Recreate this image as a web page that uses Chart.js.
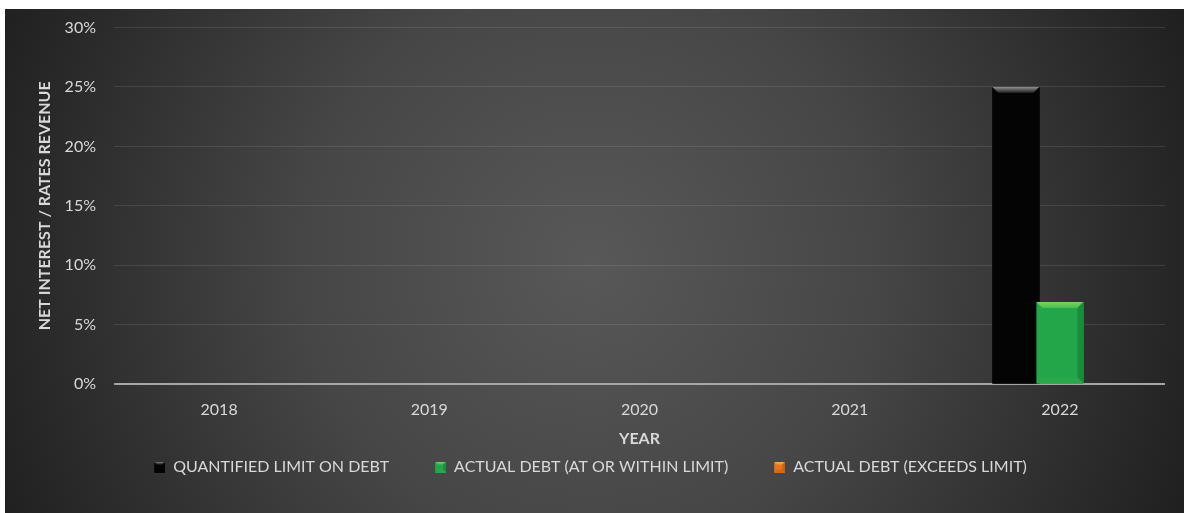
<!DOCTYPE html>
<html>
<head>
<meta charset="utf-8">
<style>
  html, body { margin: 0; padding: 0; background: #ffffff; }
  #wrap { width: 1184px; height: 513px; }
</style>
<script src="https://cdn.jsdelivr.net/npm/chart.js@4/dist/chart.umd.min.js"></script>
</head>
<body>
<div id="wrap"><canvas id="c" width="1184" height="513"></canvas></div>
<script>
// Categories and series (percent of rates revenue)
const years = ['2018', '2019', '2020', '2021', '2022'];
const quantifiedLimit = [null, null, null, null, 25];
const actualWithinLimit = [null, null, null, null, 6.9];
const actualExceedsLimit = [null, null, null, null, null];
const yTicks = [0, 5, 10, 15, 20, 25, 30];

const FONT = 'Lato, "Open Sans", sans-serif';
const TEXT = '#d9d9d9';

// Bevel palettes: face, top highlight, side shade, bottom shade
const palettes = [
  { face: '#040404', top: '#909090', topEdge: '#1c1c1c', side: '#040404', bottom: '#040404' },
  { face: '#21a64a', top: '#78d45f', topEdge: '#4dbb50', side: '#1a8d3c', bottom: '#2aa64b' },
  { face: '#e8761e', top: '#f7b25a', topEdge: '#f09a3a', side: '#c8600f', bottom: '#d56a16' }
];

function drawBevel(ctx, x0, y0, x1, y1, p, d) {
  const w = x1 - x0, h = y1 - y0;
  d = Math.min(d, w / 2, h / 2);
  ctx.fillStyle = p.face;
  ctx.fillRect(x0, y0, w, h);
  // top facet
  const g = ctx.createLinearGradient(0, y0, 0, y0 + d);
  g.addColorStop(0, p.top);
  g.addColorStop(1, p.topEdge);
  ctx.fillStyle = g;
  ctx.beginPath();
  ctx.moveTo(x0, y0); ctx.lineTo(x1, y0); ctx.lineTo(x1 - d, y0 + d); ctx.lineTo(x0 + d, y0 + d);
  ctx.closePath(); ctx.fill();
  // right facet
  ctx.fillStyle = p.side;
  ctx.beginPath();
  ctx.moveTo(x1, y0); ctx.lineTo(x1, y1); ctx.lineTo(x1 - d, y1 - d); ctx.lineTo(x1 - d, y0 + d);
  ctx.closePath(); ctx.fill();
  // bottom facet
  ctx.fillStyle = p.bottom;
  ctx.beginPath();
  ctx.moveTo(x0, y1); ctx.lineTo(x1, y1); ctx.lineTo(x1 - d, y1 - d); ctx.lineTo(x0 + d, y1 - d);
  ctx.closePath(); ctx.fill();
}

// Legend marker: a bevelled 11px square at the right end of a wider transparent
// strip, so the strip also spaces the legend items apart horizontally
const MARK_LEAD = 11;
function swatch(p) {
  const s = document.createElement('canvas');
  s.width = MARK_LEAD + 11; s.height = 11;
  drawBevel(s.getContext('2d'), MARK_LEAD, 0, MARK_LEAD + 11, 11, p, 3);
  return s;
}

const backdrop = {
  id: 'backdrop',
  beforeDraw(chart) {
    const ctx = chart.ctx;
    ctx.save();
    ctx.fillStyle = '#ffffff';
    ctx.fillRect(0, 0, chart.width, chart.height);
    const g = ctx.createRadialGradient(590, 262, 0, 590, 262, 640);
    g.addColorStop(0, '#585858');
    g.addColorStop(0.45, '#464646');
    g.addColorStop(1, '#202020');
    ctx.fillStyle = g;
    ctx.fillRect(5, 9, chart.width - 5, chart.height - 9);
    ctx.restore();
  }
};

// Bars are drawn by Chart.js; this adds the bevelled faces over each bar element
const bevelBars = {
  id: 'bevelBars',
  afterDatasetsDraw(chart) {
    const ctx = chart.ctx;
    ctx.save();
    chart.data.datasets.forEach((ds, i) => {
      const meta = chart.getDatasetMeta(i);
      if (meta.hidden) return;
      meta.data.forEach((bar, j) => {
        if (ds.data[j] == null) return;
        const { x, y, base, width } = bar.getProps(['x', 'y', 'base', 'width'], true);
        drawBevel(ctx, x - width / 2, Math.min(y, base), x + width / 2, Math.max(y, base), palettes[i], 6);
      });
    });
    ctx.restore();
  }
};

new Chart(document.getElementById('c'), {
  type: 'bar',
  data: {
    labels: years,
    datasets: [
      { label: 'QUANTIFIED LIMIT ON DEBT', data: quantifiedLimit, backgroundColor: palettes[0].face, pointStyle: swatch(palettes[0]) },
      { label: 'ACTUAL DEBT (AT OR WITHIN LIMIT)', data: actualWithinLimit, backgroundColor: palettes[1].face, pointStyle: swatch(palettes[1]) },
      { label: 'ACTUAL DEBT (EXCEEDS LIMIT)', data: actualExceedsLimit, backgroundColor: palettes[2].face, pointStyle: swatch(palettes[2]) }
    ]
  },
  options: {
    responsive: false,
    animation: false,
    devicePixelRatio: 1,
    categoryPercentage: 0.628,
    barPercentage: 1.068,
    layout: { padding: { left: 5, right: 19, top: 25, bottom: 28 } },
    plugins: {
      legend: {
        position: 'bottom',
        labels: {
          usePointStyle: true,
          pointStyleWidth: MARK_LEAD + 11,
          color: TEXT,
          font: { family: FONT, size: 16 },
          padding: 35,
          boxHeight: 11
        }
      },
      tooltip: { enabled: false }
    },
    scales: {
      x: {
        grid: { display: false, drawTicks: false },
        border: { display: false },
        ticks: { color: TEXT, font: { family: FONT, size: 16 }, padding: 16 },
        title: { display: true, text: 'YEAR', color: TEXT, font: { family: FONT, size: 16, weight: 'bold' }, padding: { top: 0, bottom: -24 } },
        afterFit(scale) { scale.height = 40; }
      },
      y: {
        min: 0, max: 30,
        afterBuildTicks(scale) { scale.ticks = yTicks.map(v => ({ value: v })); },
        grid: {
          color: ctx => ctx.tick && ctx.tick.value === 0 ? 'rgba(0,0,0,0)' : 'rgba(255,255,255,0.1)',
          lineWidth: 1,
          drawTicks: false
        },
        border: { display: false },
        ticks: { color: TEXT, font: { family: FONT, size: 16 }, padding: 18, callback: v => v + '%' },
        title: { display: true, text: 'NET INTEREST / RATES REVENUE', color: TEXT, font: { family: FONT, size: 16, weight: 'bold' }, padding: { top: 30, bottom: 0 } },
        afterFit(scale) { scale.width = 109; }
      }
    }
  },
  plugins: [backdrop, bevelBars, {
    id: 'zeroLine',
    beforeDatasetsDraw(chart) {
      const { ctx, chartArea, scales } = chart;
      const y0 = scales.y.getPixelForValue(0);
      ctx.save();
      ctx.strokeStyle = '#a6a6a6';
      ctx.lineWidth = 2;
      ctx.beginPath();
      ctx.moveTo(chartArea.left, y0);
      ctx.lineTo(chartArea.right, y0);
      ctx.stroke();
      ctx.restore();
    }
  }]
});
</script>
</body>
</html>
